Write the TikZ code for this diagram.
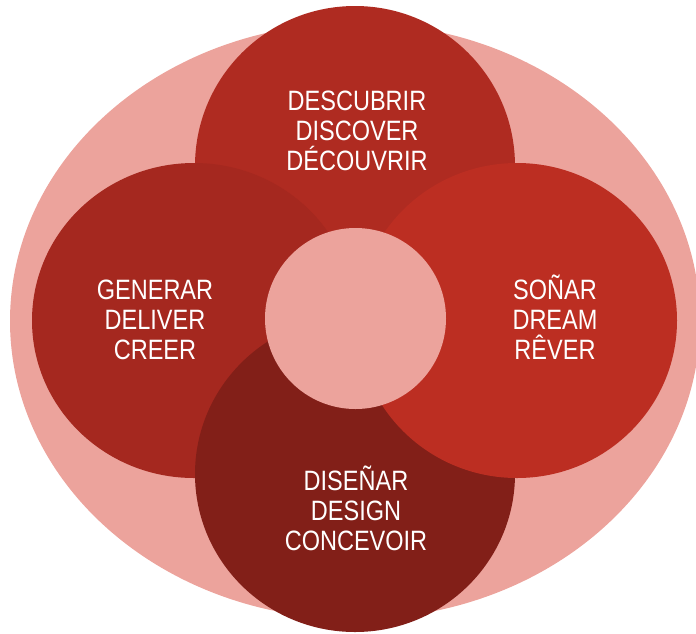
\documentclass[tikz,border=0pt]{standalone}
\usepackage{fontspec}
\setmainfont{Liberation Sans}[FakeStretch=0.84]
\usetikzlibrary{shapes.geometric}
\definecolor{pinkbg}{HTML}{ECA39C}
\definecolor{ctop}{HTML}{AF2B21}
\definecolor{cleft}{HTML}{A5281F}
\definecolor{cright}{HTML}{BC2E22}
\definecolor{cbottom}{HTML}{821F18}
\tikzset{
  blob/.style={ellipse, inner sep=0pt, outer sep=0pt, draw=none},
  label/.style={text=white, align=center, inner sep=0pt,
    font=\fontsize{28}{30}\selectfont}
}
\begin{document}
\begin{tikzpicture}[x=1pt,y=-1pt]
\useasboundingbox (0,0) rectangle (696,633);
\clip (0,0) rectangle (696,633);
\node[blob, fill=pinkbg, minimum width=690pt, minimum height=596pt] (outer) at (355,321) {};
\node[blob, fill=ctop, minimum width=320pt, minimum height=320pt] (top) at (355,166) {};
\node[blob, fill=cleft, minimum width=324pt, minimum height=315pt] (left) at (194,320.5) {};
\node[blob, fill=cbottom, minimum width=320pt, minimum height=316pt] (bottom) at (355,474) {};
\node[blob, fill=cright, minimum width=320pt, minimum height=315pt] (right) at (517,320.5) {};
\node[blob, fill=pinkbg, minimum width=181pt, minimum height=181pt] (center) at (355.5,318.5) {};
\node[label] (ttop) at (357,131) {DESCUBRIR\\DISCOVER\\DÉCOUVRIR};
\node[label] (tleft) at (155,320) {GENERAR\\DELIVER\\CREER};
\node[label] (tright) at (555,317) {SOÑAR\\DREAM\\RÊVER};
\node[label] (tbottom) at (356,508) {DISEÑAR\\DESIGN\\CONCEVOIR};
\end{tikzpicture}
\end{document}
